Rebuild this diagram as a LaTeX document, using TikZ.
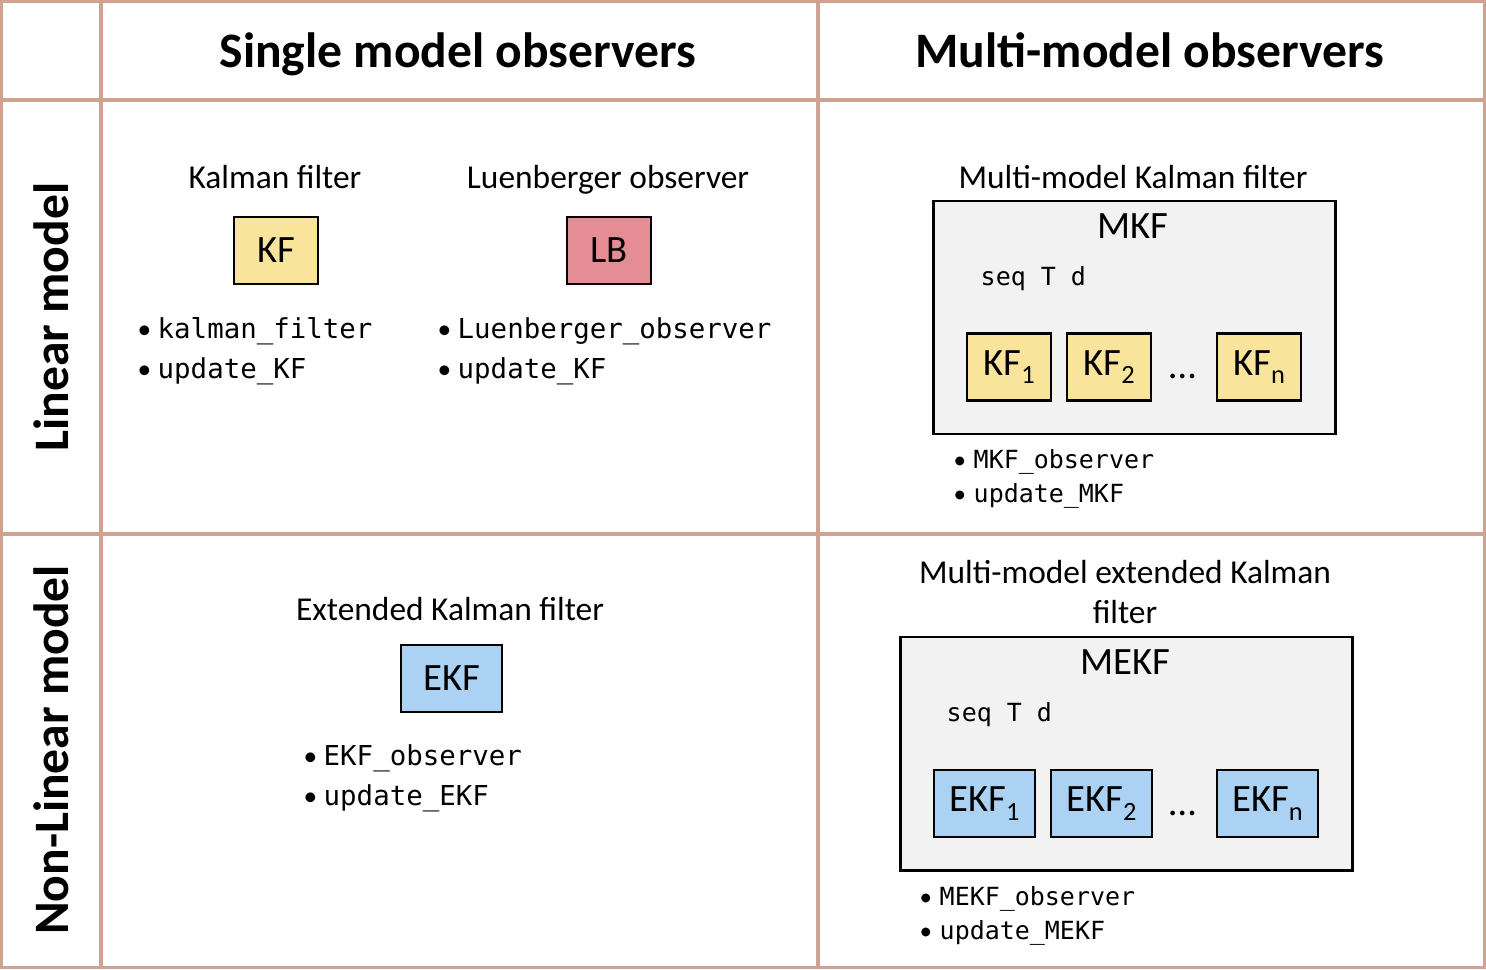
\documentclass[tikz,border=0pt]{standalone}
\usepackage{fontspec}
\setmainfont{Carlito}
\setmonofont{DejaVu Sans Mono}
\definecolor{GridTan}{RGB}{207,163,146}
\definecolor{KFYellow}{RGB}{248,229,155}
\definecolor{LBRed}{RGB}{228,141,149}
\definecolor{EKFBlue}{RGB}{171,210,243}
\definecolor{BankGrey}{RGB}{242,242,242}
\usetikzlibrary{positioning}
\newcommand{\bitem}[1]{\makebox[0.20cm][l]{\textbullet}\texttt{#1}}
\newcommand{\lowsub}[1]{\raisebox{-0.45ex}{\fontsize{7.5}{9}\selectfont #1}}

\begin{document}
\begin{tikzpicture}[
        x=0.01cm, y=-0.01cm,
        grid/.style={draw=GridTan, line width=0.9pt},
        heading/.style={font=\fontsize{14.1}{17}\selectfont\bfseries, anchor=base},
        rowlabel/.style={font=\fontsize{14.1}{17}\selectfont\bfseries, anchor=base, rotate=90},
        caption/.style={font=\fontsize{9.5}{12}\selectfont, anchor=base},
        boxlabel/.style={font=\fontsize{11}{13}\selectfont, anchor=base},
        filter/.style={rectangle, draw=black, line width=0.8pt, fill=#1, inner sep=0pt, minimum height=0.67cm, minimum width=0.84cm, font=\fontsize{11}{13}\selectfont},
        bank/.style={rectangle, draw=black, line width=0.8pt, fill=BankGrey, inner sep=0pt, minimum height=2.33cm},
        code/.style={font=\fontsize{7.8}{9}\selectfont, anchor=base west, inner sep=0pt},
        smallcode/.style={font=\fontsize{7.1}{9}\selectfont, anchor=base west, inner sep=0pt},
    ]
        \useasboundingbox (0,0) rectangle (1486,969);
        % table grid
        \draw[grid] (1.5,1.5) rectangle (1484.5,967.5);
        \draw[grid] (101,1.5) -- (101,967.5);
        \draw[grid] (818,1.5) -- (818,967.5);
        \draw[grid] (1.5,100) -- (1484.5,100);
        \draw[grid] (1.5,534) -- (1484.5,534);
        \node[heading] (single) at (458,67) {Single model observers};
        \node[heading] (multi) at (1150,67) {Multi-model observers};
        \node[rowlabel] (linear) at (68,317) {Linear model};
        \node[rowlabel] (nonlinear) at (68,750) {Non-Linear model};

        % linear, single model
        \node[caption] (kfcap) at (275,188) {Kalman filter};
        \node[filter=KFYellow] (kf) at (276,250.5) {KF};
        \node[code] (kfa) at (137,338) {\bitem{kalman\_filter}};
        \node[code] (kfb) at (137,378) {\bitem{update\_KF}};
        \node[caption] (lbcap) at (608,188) {Luenberger observer};
        \node[filter=LBRed] (lb) at (609,250.5) {LB};
        \node[code] (lba) at (437,338) {\bitem{Luenberger\_observer}};
        \node[code] (lbb) at (437,378) {\bitem{update\_KF}};

        % linear, multi-model
        \node[caption] (mkfcap) at (1133,188) {Multi-model Kalman filter};
        \node[bank, minimum width=4.01cm] (mkf) at (1134.5,317.5) {};
        \node[boxlabel] (mkflbl) at (1133,238) {MKF};
        \node[smallcode] (mkfseq) at (980,285) {\ttfamily seq T d};
        \node[filter=KFYellow] (kf1) at (1009,367) {KF\lowsub{1}};
        \node[filter=KFYellow] (kf2) at (1109,367) {KF\lowsub{2}};
        \node[boxlabel] (kfdots) at (1183,378) {\dots};
        \node[filter=KFYellow] (kfn) at (1259,367) {KF\lowsub{n}};
        \node[smallcode] (mkfa) at (953,468) {\bitem{MKF\_observer}};
        \node[smallcode] (mkfb) at (953,502) {\bitem{update\_MKF}};

        % non-linear, single model
        \node[caption] (ekfcap) at (450,620) {Extended Kalman filter};
        \node[filter=EKFBlue, minimum width=1.01cm] (ekf) at (451.5,678.5) {EKF};
        \node[code] (ekfa) at (303,765) {\bitem{EKF\_observer}};
        \node[code] (ekfb) at (303,805) {\bitem{update\_EKF}};

        % non-linear, multi-model
        \node[caption] (mekfcap) at (1125,583) {Multi-model extended Kalman};
        \node[caption] (mekfcap2) at (1125,623) {filter};
        \node[bank, minimum width=4.51cm] (mekf) at (1126.5,753.5) {};
        \node[boxlabel] (mekflbl) at (1125,674) {MEKF};
        \node[smallcode] (mekfseq) at (946,721) {\ttfamily seq T d};
        \node[filter=EKFBlue, minimum width=1.01cm] (ekf1) at (984.5,803.5) {EKF\lowsub{1}};
        \node[filter=EKFBlue, minimum width=1.01cm] (ekf2) at (1101.5,803.5) {EKF\lowsub{2}};
        \node[boxlabel] (ekfdots) at (1183,815) {\dots};
        \node[filter=EKFBlue, minimum width=1.01cm] (ekfn) at (1267.5,803.5) {EKF\lowsub{n}};
        \node[smallcode] (mekfa) at (919,905) {\bitem{MEKF\_observer}};
        \node[smallcode] (mekfb) at (919,939) {\bitem{update\_MEKF}};
    \end{tikzpicture}
\end{document}
